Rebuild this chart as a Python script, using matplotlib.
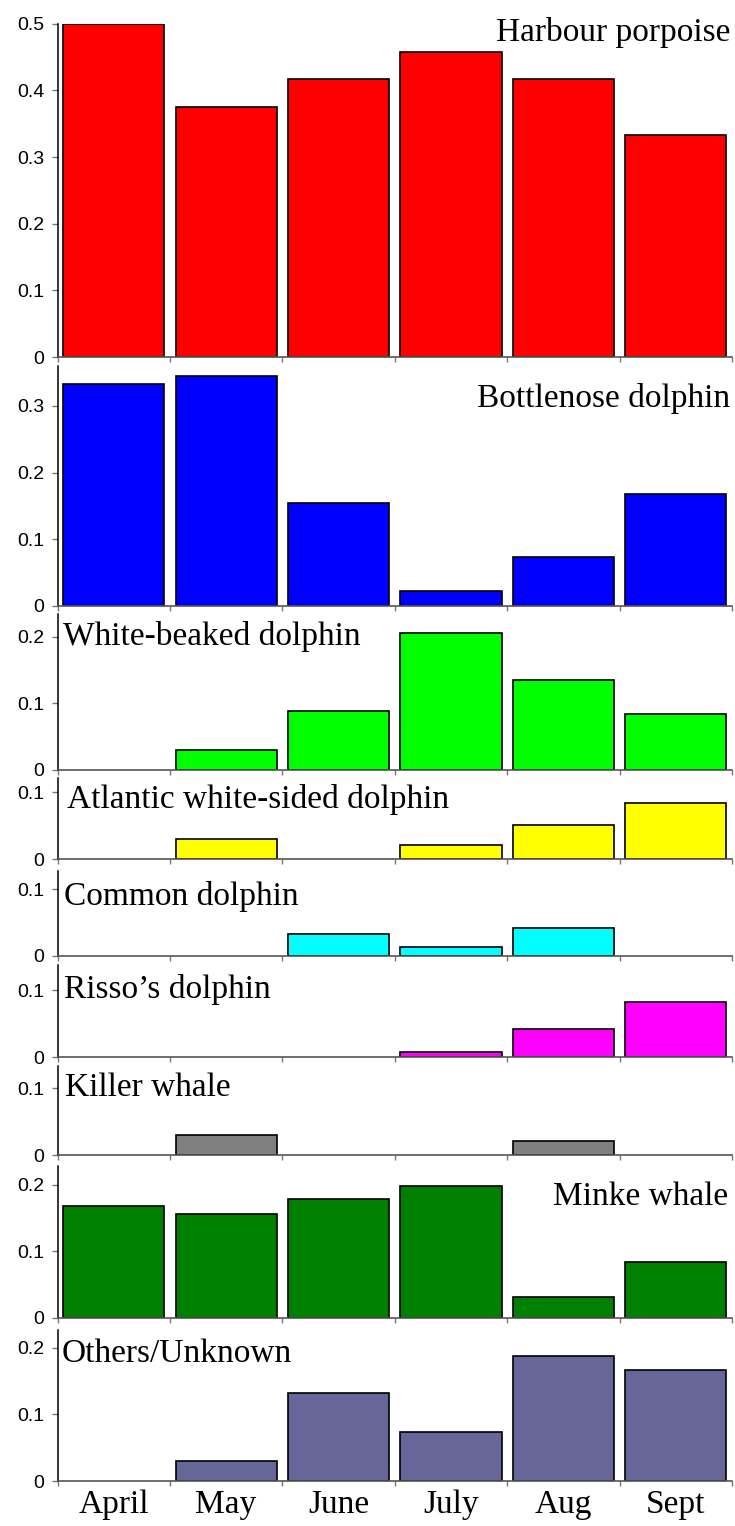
import numpy as np
import matplotlib
matplotlib.use('Agg')
import matplotlib.pyplot as plt

# data (proportion of sightings per month)
months = ['April', 'May', 'June', 'July', 'Aug', 'Sept']
species = ['Harbour porpoise', 'Bottlenose dolphin', 'White-beaked dolphin',
           'Atlantic white-sided dolphin', 'Common dolphin', "Risso\u2019s dolphin",
           'Killer whale', 'Minke whale', 'Others/Unknown']
harbour_porpoise = [0.5, 0.375, 0.417, 0.458, 0.417, 0.333]
bottlenose_dolphin = [0.333, 0.345, 0.154, 0.022, 0.073, 0.168]
white_beaked = [0.0, 0.030, 0.089, 0.205, 0.135, 0.084]
atlantic_white_sided = [0.0, 0.030, 0.0, 0.021, 0.051, 0.084]
common_dolphin = [0.0, 0.0, 0.033, 0.014, 0.042, 0.0]
rissos_dolphin = [0.0, 0.0, 0.0, 0.0075, 0.042, 0.082]
killer_whale = [0.0, 0.030, 0.0, 0.0, 0.021, 0.0]
minke_whale = [0.168, 0.156, 0.178, 0.198, 0.031, 0.084]
others_unknown = [0.0, 0.030, 0.132, 0.074, 0.188, 0.167]
yticks = [[0, 0.1, 0.2, 0.3, 0.4, 0.5], [0, 0.1, 0.2, 0.3], [0, 0.1, 0.2],
          [0, 0.1], [0, 0.1], [0, 0.1], [0, 0.1], [0, 0.1, 0.2], [0, 0.1, 0.2]]

values = [harbour_porpoise, bottlenose_dolphin, white_beaked, atlantic_white_sided,
          common_dolphin, rissos_dolphin, killer_whale, minke_whale, others_unknown]
colors = ['#FF0000', '#0000FF', '#00FF00', '#FFFF00', '#00FFFF', '#FF00FF',
          '#808080', '#008000', '#666699']

W, H = 735, 1526
fig = plt.figure(figsize=(W / 100, H / 100), dpi=100)

# panel layout in pixels (top, bottom), scale is same for every panel
left_px, right_px = 57.5, 732
tops = [23.7, 366, 614, 778, 871, 965, 1066, 1166, 1330]
bottoms = [357, 606, 770, 859, 956, 1057, 1155, 1318, 1481]
px_per_unit = 667.0

# label placement: (x px, baseline px, alignment)
label_pos = [(730, 41, 'right'), (730, 407, 'right'), (63, 645, 'left'),
             (67, 808, 'left'), (64, 905, 'left'), (64, 998, 'left'),
             (65, 1096, 'left'), (728, 1205, 'right'), (62, 1362, 'left')]

x = np.arange(len(months))
for i in range(len(species)):
    top, bot = tops[i], bottoms[i]
    ax = fig.add_axes([left_px / W, 1 - bot / H, (right_px - left_px) / W, (bot - top) / H])
    # no outline where there is no bar
    edges = ['black' if v > 0 else 'none' for v in values[i]]
    ax.bar(x, values[i], width=0.9, color=colors[i], edgecolor=edges, linewidth=1.2)
    ax.set_xlim(-0.5, 5.5)
    ax.set_ylim(0, (bot - top) / px_per_unit)
    ax.set_facecolor('none')
    for s in ['top', 'right']:
        ax.spines[s].set_visible(False)
    ax.spines['left'].set_color('black')
    ax.spines['left'].set_linewidth(1.1)
    ax.spines['bottom'].set_color('#555555')
    ax.spines['bottom'].set_linewidth(1.2)
    ax.set_yticks(yticks[i])
    ax.set_yticklabels(['0' if t == 0 else '%.1f' % t for t in yticks[i]],
                       family='Liberation Sans', fontsize=14)
    ax.tick_params(axis='y', direction='out', length=4.5, width=1, color='#777777', pad=5)
    ax.set_xticks(np.arange(-0.5, 6, 1.0))
    ax.tick_params(axis='x', direction='out', length=3.5, width=1, color='#777777')
    ax.set_xticklabels([])
    if i == len(species) - 1:
        ax.set_xticks(x, minor=True)
        ax.set_xticklabels(months, minor=True, family='Liberation Serif', fontsize=24)
        ax.tick_params(axis='x', which='minor', length=0, pad=6)
    lx, ly, ha = label_pos[i]
    fig.text(lx / W, 1 - ly / H, species[i], ha=ha, va='baseline',
             family='Liberation Serif', fontsize=24)

fig.savefig('out.png', dpi=100)
